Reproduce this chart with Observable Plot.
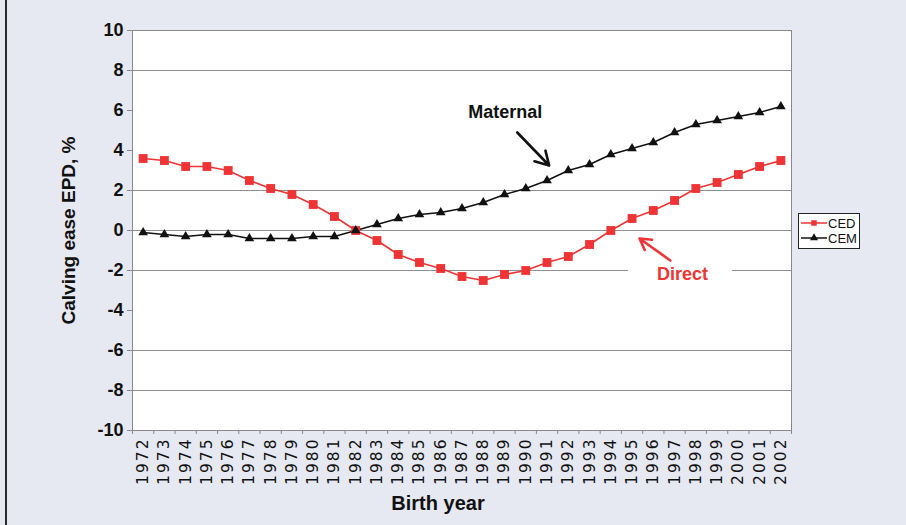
<!DOCTYPE html>
<html>
<head>
<meta charset="utf-8">
<script src="https://cdn.jsdelivr.net/npm/d3@7"></script>
<script src="https://cdn.jsdelivr.net/npm/@observablehq/plot@0.6"></script>
<style>
  html, body { margin: 0; padding: 0; background: #e6e8f2; }
  #wrap { position: relative; width: 906px; height: 525px; overflow: hidden; background: #e6e8f2; }
  #frameline { position: absolute; left: 5px; top: 0; width: 2px; height: 525px; background: #2a2a2a; }
  #legend { position: absolute; left: 798px; top: 213px; }
</style>
</head>
<body>
<div id="wrap">
  <div id="chart"></div>
  <div id="frameline"></div>
  <div id="legend"></div>
</div>
<script>
// ---- data ----
const years = [1972, 1973, 1974, 1975, 1976, 1977, 1978, 1979, 1980, 1981,
               1982, 1983, 1984, 1985, 1986, 1987, 1988, 1989, 1990, 1991,
               1992, 1993, 1994, 1995, 1996, 1997, 1998, 1999, 2000, 2001, 2002];
const ced = [3.6, 3.5, 3.2, 3.2, 3.0, 2.5, 2.1, 1.8, 1.3, 0.7,
             0.0, -0.5, -1.2, -1.6, -1.9, -2.3, -2.5, -2.2, -2.0, -1.6,
             -1.3, -0.7, 0.0, 0.6, 1.0, 1.5, 2.1, 2.4, 2.8, 3.2, 3.5];
const cem = [-0.1, -0.2, -0.3, -0.2, -0.2, -0.4, -0.4, -0.4, -0.3, -0.3,
             0.0, 0.3, 0.6, 0.8, 0.9, 1.1, 1.4, 1.8, 2.1, 2.5,
             3.0, 3.3, 3.8, 4.1, 4.4, 4.9, 5.3, 5.5, 5.7, 5.9, 6.2];
const yTicks = [-10, -8, -6, -4, -2, 0, 2, 4, 6, 8, 10];
const gridY = [8, 2, 0, -2, -6, -8];
const seriesNames = ["CED", "CEM"];
const seriesColors = ["#ee3434", "#111111"];
const yLabel = "Calving ease EPD, %";
const xLabel = "Birth year";
const annoLabels = ["Maternal", "Direct"];
const annoYear = [1989.04, 1997.37];
const annoValue = [5.9, -2.2];
const arrowFromYear = [1989.6, 1996.8];
const arrowFromValue = [4.9, -1.5];
const arrowToYear = [1991.1, 1995.35];
const arrowToValue = [3.25, -0.4];

// ---- tables ----
const cedRows = years.map((y, i) => ({year: y, value: ced[i]}));
const cemRows = years.map((y, i) => ({year: y, value: cem[i]}));
const annoRows = annoLabels.map((l, i) => ({label: l, year: annoYear[i], value: annoValue[i], color: seriesColors[i === 0 ? 1 : 0]}));
const arrowRows = annoLabels.map((l, i) => ({x1: arrowFromYear[i], y1: arrowFromValue[i], x2: arrowToYear[i], y2: arrowToValue[i], color: seriesColors[i === 0 ? 1 : 0]}));
const boundaries = [...years.map(y => y - 0.5), years[years.length - 1] + 0.5];

const boldFont = "'Liberation Sans', Arial, sans-serif";
const narrowFont = "'Liberation Sans Narrow', 'Liberation Sans', sans-serif";

const chart = Plot.plot({
  width: 906,
  height: 525,
  marginLeft: 132,
  marginRight: 115,
  marginTop: 30,
  marginBottom: 95,
  style: {background: "transparent", fontFamily: boldFont, color: "#111"},
  x: {domain: [1971.5, 2002.5]},
  y: {domain: [-10, 10]},
  marks: [
    Plot.frame({fill: "white", stroke: "none"}),
    Plot.ruleY(gridY, {stroke: "#8f8f8f", strokeWidth: 1}),
    Plot.rect([{x1: 1994.83, x2: 1999.72, y1: -2.35, y2: -1.65}], {x1: "x1", x2: "x2", y1: "y1", y2: "y2", fill: "white"}),
    Plot.frame({stroke: "#8a8a8a", strokeWidth: 1}),
    Plot.axisY({ticks: yTicks, tickSize: 5, tickPadding: 4, fontSize: 18, fontWeight: "bold", label: null, stroke: "#8a8a8a", tickFormat: d => String(d)}),
    Plot.axisX({ticks: boundaries, tickSize: 4, tickFormat: () => "", label: null, stroke: "#8a8a8a"}),
    Plot.axisX({ticks: years, tickSize: 0, tickPadding: 7, tickRotate: -90, tickFormat: d => String(d), fontSize: 15.5, label: null, fontFamily: "'DejaVu Sans', sans-serif"}),
    Plot.text([yLabel], {frameAnchor: "left", rotate: -90, dx: -64, textAnchor: "middle", fontSize: 19, fontWeight: "bold", fontFamily: narrowFont, fill: "#111"}),
    Plot.text([xLabel], {frameAnchor: "bottom", dx: -24, dy: 79, fontSize: 20, fontWeight: "bold", fontFamily: narrowFont, fill: "#111"}),
    Plot.line(cemRows, {x: "year", y: "value", stroke: seriesColors[1], strokeWidth: 1.5}),
    Plot.line(cedRows, {x: "year", y: "value", stroke: seriesColors[0], strokeWidth: 1.6}),
    Plot.dot(cedRows, {x: "year", y: "value", symbol: "square", r: 5, fill: seriesColors[0], stroke: "none"}),
    Plot.dot(cemRows, {x: "year", y: "value", symbol: "triangle", r: 3.6, fill: seriesColors[1], stroke: "none"}),
    Plot.arrow(arrowRows, {x1: "x1", y1: "y1", x2: "x2", y2: "y2", stroke: "color", strokeWidth: 2.6, headLength: 10}),
    Plot.text(annoRows, {x: "year", y: "value", text: "label", fill: "color", fontSize: 18, fontWeight: "bold"})
  ]
});
document.getElementById("chart").appendChild(chart);
d3.select(chart).selectAll('g[aria-label="x-axis tick label"] text').style("letter-spacing", "2px");

// ---- legend ----
const lg = d3.select("#legend").append("svg").attr("width", 62).attr("height", 36);
lg.append("rect").attr("x", 0.5).attr("y", 0.5).attr("width", 61).attr("height", 35).attr("fill", "white").attr("stroke", "#222");
seriesNames.forEach((name, i) => {
  const cy = 10 + i * 15;
  lg.append("line").attr("x1", 3).attr("x2", 29).attr("y1", cy).attr("y2", cy).attr("stroke", seriesColors[i]).attr("stroke-width", 1.5);
  const sym = i === 0 ? d3.symbolSquare : d3.symbolTriangle;
  lg.append("path").attr("d", d3.symbol(sym, i === 0 ? 30 : 28)()).attr("transform", `translate(16,${cy})`).attr("fill", seriesColors[i]);
  lg.append("text").attr("x", 30).attr("y", cy + 4.5).attr("font-size", 13).attr("font-family", narrowFont).attr("fill", "#111").text(name);
});
</script>
</body>
</html>
